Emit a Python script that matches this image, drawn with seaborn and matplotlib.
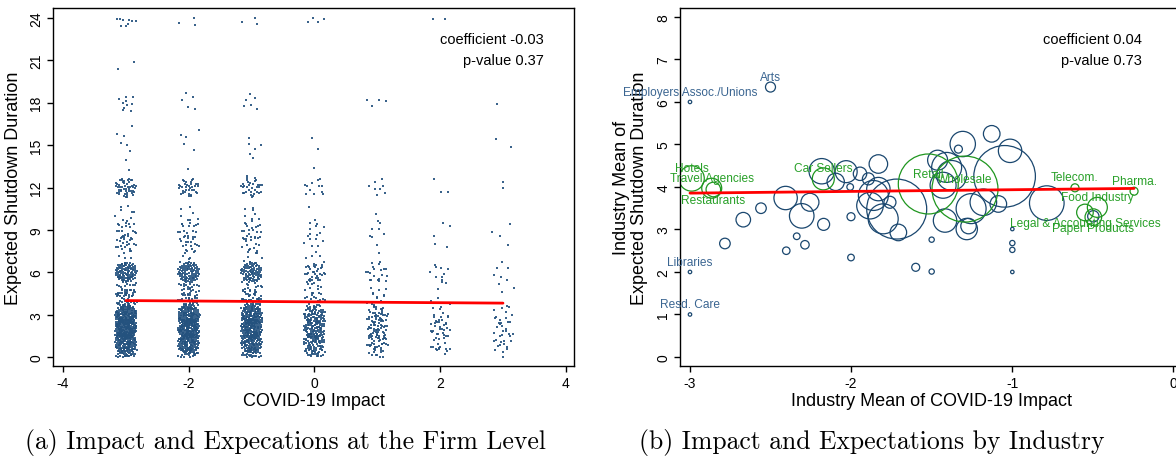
import numpy as np
import pandas as pd
import matplotlib
matplotlib.use("Agg")
import matplotlib.pyplot as plt
import seaborn as sns

# ---------------- data: panel (a) firm level ----------------
durations = [0, 0.5, 1, 1.5, 2, 2.5, 3, 3.5, 4, 4.5, 5, 6, 7, 8, 9, 10, 11, 12, 13, 14, 15, 16, 18, 20, 21, 24]
impact_levels = [-3, -2, -1, 0, 1, 2, 3]
counts_impact_m3 = [25, 20, 110, 35, 130, 40, 125, 10, 35, 15, 22, 95, 8, 20, 20, 8, 2, 48, 1, 1, 4, 2, 10, 1, 1, 9]
counts_impact_m2 = [22, 18, 100, 30, 120, 35, 110, 8, 30, 10, 20, 85, 8, 18, 18, 7, 0, 35, 0, 1, 3, 2, 5, 0, 0, 3]
counts_impact_m1 = [20, 15, 90, 25, 105, 30, 110, 8, 28, 10, 18, 80, 7, 16, 18, 7, 2, 32, 1, 1, 5, 0, 6, 0, 0, 3]
counts_impact_0 = [14, 12, 55, 18, 62, 20, 55, 6, 14, 5, 10, 32, 4, 7, 9, 2, 0, 12, 0, 1, 2, 0, 0, 0, 0, 4]
counts_impact_p1 = [6, 5, 28, 9, 30, 9, 28, 3, 6, 3, 6, 16, 2, 2, 5, 2, 0, 8, 0, 0, 0, 0, 4, 0, 0, 0]
counts_impact_p2 = [2, 3, 12, 5, 15, 5, 10, 0, 3, 0, 3, 9, 0, 2, 3, 0, 0, 3, 0, 0, 0, 0, 0, 0, 0, 2]
counts_impact_p3 = [2, 2, 9, 3, 10, 3, 9, 0, 2, 0, 2, 6, 0, 1, 3, 0, 0, 2, 0, 0, 2, 0, 1, 0, 0, 0]
firm_fit_intercept = 3.905
firm_fit_slope = -0.03
firm_fit_xrange = [-3, 3]
firm_stats = ["coefficient -0.03", "p-value 0.37"]

# ---------------- data: panel (b) industry level ----------------
ind_label = ["Hotels", "Travel Agencies", "Restaurants", "Car Sellers", "Retail", "Wholesale",
             "Telecom.", "Pharma.", "Food Industry", "Legal & Accounting Services", "Paper Products",
             "Employers Assoc./Unions", "Arts", "Libraries", "Resd. Care"] + [""] * 50
ind_highlight = [True] * 11 + [False] * 54
ind_label_side = [1, 1, -1, 1, 1, 1, 1, 1, 1, -1, -1, 1, 1, 1, 1] + [1] * 50
ind_x = [-2.99, -2.865, -2.855, -2.172, -1.52, -1.292, -0.609, -0.242, -0.47, -0.547, -0.495,
         -3.0, -2.50, -3.0, -3.0,
         -2.783, -2.669, -2.559, -2.406, -2.306, -2.255, -2.337, -2.286, -2.402, -2.170,
         -2.182, -2.095, -2.03, -2.0, -2.0, -2.005, -1.944, -1.830, -1.892, -1.716,
         -1.861, -1.830, -1.882, -1.758, -1.706, -1.80, -1.499, -1.598, -1.499, -1.462,
         -1.406, -1.375, -1.428, -1.306, -1.333, -1.416, -1.281, -1.27, -1.254, -1.126,
         -1.178, -1.046, -1.012, -1.085, -0.784, -0.495, -0.998, -0.998, -0.998, -0.998]
ind_y = [4.20, 3.97, 3.94, 4.19, 4.07, 3.95, 3.98, 3.90, 3.52, 3.40, 3.29,
         6.0, 6.35, 2.0, 1.0,
         2.67, 3.23, 3.50, 3.74, 3.32, 3.64, 2.84, 2.64, 2.50, 3.12,
         4.37, 4.12, 4.36, 3.30, 2.34, 4.0, 4.31, 4.54, 4.19, 3.48,
         3.80, 3.95, 3.56, 3.64, 2.93, 3.25, 2.76, 2.11, 2.01, 4.63,
         4.46, 4.27, 4.04, 5.01, 4.89, 3.21, 3.01, 3.08, 3.49, 5.25,
         3.64, 4.25, 4.85, 3.60, 3.62, 3.31, 3.01, 2.68, 2.52, 2.0]
ind_firms = [161, 100, 53, 121, 900, 1089, 16, 16, 100, 69, 69,
             3, 25, 3, 3,
             28, 53, 28, 137, 151, 81, 11, 18, 14, 36,
             161, 75, 121, 16, 11, 11, 45, 86, 36, 900,
             225, 137, 177, 36, 69, 225, 7, 16, 7, 100,
             225, 225, 169, 161, 16, 137, 114, 60, 225, 69,
             177, 950, 137, 69, 300, 32, 3, 7, 7, 3]
ind_fit_intercept = 3.975
ind_fit_slope = 0.04
ind_stats = ["coefficient 0.04", "p-value 0.73"]

captions = ["(a) Impact and Expecations at the Firm Level", "(b) Impact and Expectations by Industry"]

# ---------------- style ----------------
sns.set_style("white")
plt.rcParams["font.family"] = ["Liberation Sans", "DejaVu Sans"]
plt.rcParams["axes.unicode_minus"] = False
for key in ("text.color", "axes.labelcolor", "xtick.color", "ytick.color"):
    plt.rcParams[key] = "black"

NAVY = "#1a476f"
DOT = "#24527e"
GREEN = "#1f961f"
LBLUE = "#3a6591"
LGREEN = "#28a028"

fig = plt.figure(figsize=(11.76, 4.64), dpi=100)
axA = fig.add_axes([53 / 1176, 97 / 464, 521 / 1176, 358 / 464])
axB = fig.add_axes([680 / 1176, 97 / 464, 503 / 1176, 358 / 464])

# ---------------- panel (a) ----------------
count_lists = [counts_impact_m3, counts_impact_m2, counts_impact_m1, counts_impact_0,
               counts_impact_p1, counts_impact_p2, counts_impact_p3]
rows = []
for imp, cl in zip(impact_levels, count_lists):
    for d, c in zip(durations, cl):
        rows.extend([(imp, d)] * c)
firms = pd.DataFrame(rows, columns=["impact", "duration"])

# deterministic quasi-uniform jitter (display spread only)
k = np.arange(len(firms))
u = (0.5 + 0.7548776662466927 * k) % 1.0
v = (0.5 + 0.5698402909980532 * k) % 1.0
rad = np.sqrt(u)
th = 2 * np.pi * v
jx = firms["impact"].to_numpy() + 0.175 * rad * np.cos(th)
jy = firms["duration"].to_numpy() + 0.72 * rad * np.sin(th)
jy = np.where(jy < 0, -jy, jy)
jy = np.where(jy > 24, 48 - jy, jy)
firms["impact_j"] = jx
firms["duration_j"] = jy

sns.scatterplot(data=firms, x="impact_j", y="duration_j", ax=axA, color=DOT,
                marker="s", s=0.75, linewidth=0, alpha=0.9, legend=False)
fitA = pd.DataFrame({"x": firm_fit_xrange})
fitA["y"] = firm_fit_intercept + firm_fit_slope * fitA["x"]
sns.lineplot(data=fitA, x="x", y="y", ax=axA, color="#ff0000", linewidth=2)

axA.set_xlim(-4.16, 4.13)
axA.set_ylim(-0.637, 24.71)
axA.set_xticks([-4, -2, 0, 2, 4])
axA.set_yticks(list(range(0, 25, 3)))
axA.set_xlabel("COVID-19 Impact", fontsize=13, labelpad=2)
axA.set_ylabel("Expected Shutdown Duration", fontsize=13, labelpad=5)
axA.text(0.942, 0.913, firm_stats[0], transform=axA.transAxes, ha="right", va="center", fontsize=10.5)
axA.text(0.942, 0.855, firm_stats[1], transform=axA.transAxes, ha="right", va="center", fontsize=10.5)

# ---------------- panel (b) ----------------
ind = pd.DataFrame({"x": ind_x, "y": ind_y, "firms": ind_firms,
                    "hl": ind_highlight, "label": ind_label, "side": ind_label_side})
nmin, nmax = ind["firms"].min(), ind["firms"].max()
scale = 2.07
for hl, col in [(False, NAVY), (True, GREEN)]:
    sub = ind[ind["hl"] == hl]
    sns.scatterplot(data=sub, x="x", y="y", size="firms", sizes=(nmin * scale, nmax * scale),
                    size_norm=(nmin, nmax), ax=axB, facecolor="none", edgecolor=col,
                    color=col, linewidth=0.9, legend=False, zorder=2 if hl else 1)

xline = [ind["x"].min(), ind["x"].max()]
fitB = pd.DataFrame({"x": xline})
fitB["y"] = ind_fit_intercept + ind_fit_slope * fitB["x"]
sns.lineplot(data=fitB, x="x", y="y", ax=axB, color="#ff0000", linewidth=2, zorder=3)

for _, r in ind[ind["label"] != ""].iterrows():
    axB.annotate(r["label"], (r["x"], r["y"]), xytext=(0, 7.5 * r["side"]),
                 textcoords="offset points", ha="center", va="center",
                 fontsize=8.6, color=LGREEN if r["hl"] else LBLUE, zorder=4)

axB.set_xlim(-3.062, 0.062)
axB.set_ylim(-0.212, 8.21)
axB.set_xticks([-3, -2, -1, 0])
axB.set_yticks(list(range(0, 9)))
axB.set_xlabel("Industry Mean of COVID-19 Impact", fontsize=13, labelpad=2)
axB.set_ylabel("Industry Mean of\nExpected Shutdown Duration", fontsize=13, labelpad=6, linespacing=1.05)
axB.text(0.918, 0.913, ind_stats[0], transform=axB.transAxes, ha="right", va="center", fontsize=10.5)
axB.text(0.918, 0.855, ind_stats[1], transform=axB.transAxes, ha="right", va="center", fontsize=10.5)

for ax in (axA, axB):
    for sp in ax.spines.values():
        sp.set_visible(True)
        sp.set_color("black")
        sp.set_linewidth(1.0)
    ax.tick_params(axis="both", direction="out", length=4, width=1, color="black",
                   labelsize=10, pad=3, bottom=True, left=True)
    for lab in ax.get_yticklabels():
        lab.set_rotation(90)
        lab.set_va("center")

fig.text(285 / 1176, 21 / 464, captions[0], ha="center", va="center", fontsize=18.5, family="cmr10")
fig.text(872 / 1176, 21 / 464, captions[1], ha="center", va="center", fontsize=18.5, family="cmr10")

fig.savefig("out.png", dpi=100)
